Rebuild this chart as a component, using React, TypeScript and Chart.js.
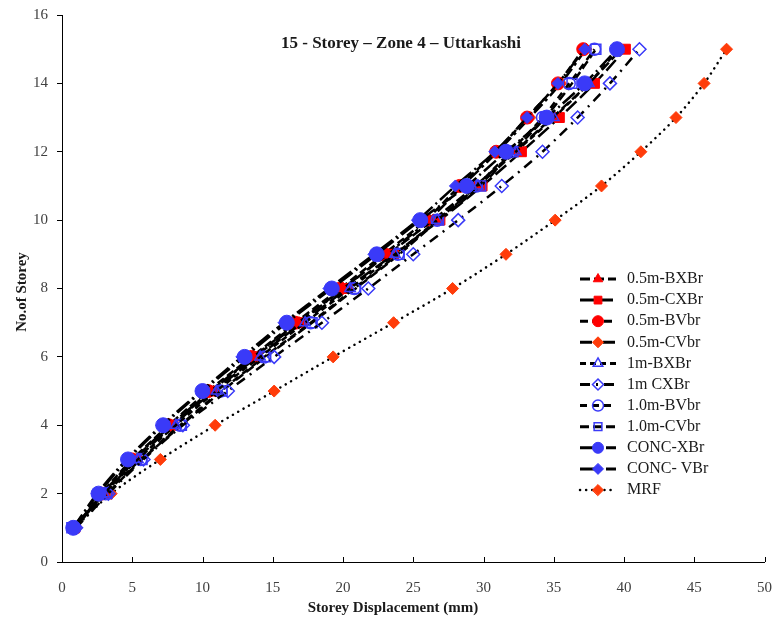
import React, { useEffect, useRef } from 'react';
import { Chart, registerables } from 'chart.js';
import { drawPoint } from 'chart.js/helpers';

Chart.register(...registerables);

// ---- data ----
const storeys = [1, 2, 3, 4, 5, 6, 7, 8, 9, 10, 11, 12, 13, 14, 15];
const s05BXBr = [0.9, 2.9, 5.1, 7.8, 10.6, 13.6, 16.8, 20.0, 23.2, 26.4, 29.4, 32.2, 34.9, 37.5, 39.8];
const s05CXBr = [0.9, 3.0, 5.3, 7.9, 10.8, 13.9, 17.1, 20.3, 23.6, 26.9, 29.9, 32.7, 35.4, 37.9, 40.1];
const s05BVbr = [0.9, 2.8, 5.0, 7.6, 10.4, 13.5, 16.6, 19.8, 22.9, 25.9, 28.3, 30.9, 33.1, 35.3, 37.1];
const s05CVbr = [0.9, 2.9, 5.1, 7.7, 10.6, 13.7, 16.9, 20.0, 23.1, 26.1, 28.5, 31.0, 33.3, 35.5, 37.3];
const s1BXBr = [0.9, 3.0, 5.4, 8.1, 11.0, 14.1, 17.3, 20.5, 23.7, 26.7, 29.6, 32.3, 35.0, 37.5, 39.6];
const s1CXBr = [1.0, 3.3, 5.8, 8.6, 11.8, 15.1, 18.5, 21.8, 25.0, 28.2, 31.3, 34.2, 36.7, 39.0, 41.1];
const s10BVbr = [0.9, 3.1, 5.6, 8.4, 11.3, 14.4, 17.7, 20.8, 23.9, 26.7, 29.5, 31.9, 34.2, 36.1, 37.9];
const s10CVbr = [0.7, 3.2, 5.7, 8.5, 11.4, 14.5, 17.8, 20.9, 24.0, 26.8, 29.8, 32.1, 34.4, 36.3, 38.0];
const concXBr = [0.8, 2.6, 4.7, 7.2, 10.0, 13.0, 16.0, 19.2, 22.4, 25.5, 28.8, 31.6, 34.5, 37.2, 39.5];
const concVBr = [0.8, 2.5, 4.6, 7.1, 9.9, 12.8, 15.8, 19.0, 22.2, 25.3, 28.0, 30.8, 33.1, 35.3, 37.2];
const mrf = [0.9, 3.5, 7.0, 10.9, 15.1, 19.3, 23.6, 27.8, 31.6, 35.1, 38.4, 41.2, 43.7, 45.7, 47.3];

const seriesLabels = ['0.5m-BXBr', '0.5m-CXBr', '0.5m-BVbr', '0.5m-CVbr', '1m-BXBr', '1m CXBr', '1.0m-BVbr', '1.0m-CVbr', 'CONC-XBr', 'CONC- VBr', 'MRF'];
const seriesValues = [s05BXBr, s05CXBr, s05BVbr, s05CVbr, s1BXBr, s1CXBr, s10BVbr, s10CVbr, concXBr, concVBr, mrf];

const chartTitle = '15 - Storey \u2013 Zone 4 \u2013 Uttarkashi';
const xTitle = 'Storey Displacement (mm)';
const yTitle = 'No.of Storey';

// ---- styles ----
const RED = '#FF0000';
const BLUE = '#3A3AF8';
const ORANGE = '#FF3C0A';
const NONE = 'rgba(0,0,0,0)';
const SERIF = '"Liberation Serif", "DejaVu Serif", serif';

const styles = [
  { ps: 'triangle', r: 6, bg: RED, bc: RED, bw: 1, dash: [10, 4], order: 6 },
  { ps: 'rect', r: 7, bg: RED, bc: RED, bw: 1, dash: [14, 5], order: 7 },
  { ps: 'circle', r: 6.5, bg: RED, bc: RED, bw: 1, dash: [8, 4], order: 8 },
  { ps: 'rectRot', r: 6, bg: ORANGE, bc: ORANGE, bw: 1, dash: [12, 4, 3, 4], order: 9 },
  { ps: 'triangle', r: 6, bg: NONE, bc: BLUE, bw: 1.5, dash: [6, 4], order: 2 },
  { ps: 'rectRot', r: 6.5, bg: NONE, bc: BLUE, bw: 1.5, dash: [10, 6, 2, 6], order: 3 },
  { ps: 'circle', r: 6, bg: NONE, bc: BLUE, bw: 1.5, dash: [7, 5], order: 4 },
  { ps: 'rect', r: 7, bg: NONE, bc: BLUE, bw: 1.5, dash: [9, 4], order: 5 },
  { ps: 'circle', r: 7.5, bg: BLUE, bc: BLUE, bw: 1, dash: [16, 4, 2, 4], order: 0 },
  { ps: 'rectRot', r: 6, bg: BLUE, bc: BLUE, bw: 1, dash: [16, 4, 2, 4], order: 1 },
  { ps: 'rectRot', r: 6, bg: ORANGE, bc: ORANGE, bw: 1, dash: [0.1, 6], order: 10 },
];

const overlayPlugin = {
  id: 'overlay',
  afterDatasetsDraw(chart: any) {
    const { ctx, scales, chartArea } = chart;
    const xs = scales.x;
    ctx.save();
    ctx.strokeStyle = '#000';
    ctx.lineWidth = 1;
    for (let v = 5; v <= 50; v += 5) {
      const px = Math.round(xs.getPixelForValue(v)) + 0.5;
      ctx.beginPath();
      ctx.moveTo(px, chartArea.bottom);
      ctx.lineTo(px, chartArea.bottom - 5);
      ctx.stroke();
    }
    ctx.restore();
  },
  afterDraw(chart: any) {
    const { ctx } = chart;
    ctx.save();
    ctx.fillStyle = '#1a1a1a';
    ctx.textAlign = 'center';
    ctx.textBaseline = 'middle';
    ctx.font = `bold 17px ${SERIF}`;
    ctx.fillText(chartTitle, 401, 44);
    ctx.font = `bold 15px ${SERIF}`;
    ctx.fillText(xTitle, 393, 608);
    ctx.save();
    ctx.translate(22, 292);
    ctx.rotate(-Math.PI / 2);
    ctx.fillText(yTitle, 0, 0);
    ctx.restore();

    // legend
    const ds = chart.data.datasets;
    ds.forEach((d: any, i: number) => {
      const y = 279 + i * 21.1;
      ctx.save();
      ctx.strokeStyle = '#000';
      ctx.lineWidth = d.label === 'MRF' ? 2.5 : 3;
      ctx.lineCap = d.label === 'MRF' ? 'round' : 'butt';
      ctx.setLineDash(d.borderDash);
      ctx.beginPath();
      ctx.moveTo(580, y);
      ctx.lineTo(616, y);
      ctx.stroke();
      ctx.setLineDash([]);
      ctx.fillStyle = d.pointBackgroundColor;
      ctx.strokeStyle = d.pointBorderColor;
      ctx.lineWidth = d.pointBorderWidth;
      drawPoint(ctx, { pointStyle: d.pointStyle, radius: Math.min(d.pointRadius, 5.5), rotation: 0, borderWidth: d.pointBorderWidth }, 598, y);
      ctx.restore();
      ctx.fillStyle = '#1a1a1a';
      ctx.textAlign = 'left';
      ctx.font = `16px ${SERIF}`;
      ctx.fillText(d.label, 627, y);
    });
    ctx.restore();
  },
};

export default function App() {
  const canvasRef = useRef<HTMLCanvasElement | null>(null);

  useEffect(() => {
    if (!canvasRef.current) return;
    const datasets = seriesLabels.map((label, i) => {
      const st = styles[i];
      return {
        label,
        data: seriesValues[i].map((x, k) => ({ x, y: storeys[k] })),
        showLine: true,
        borderColor: '#000',
        borderWidth: 2.5,
        borderDash: st.dash,
        borderCapStyle: label === 'MRF' ? 'round' : 'butt',
        tension: 0.3,
        pointStyle: st.ps,
        pointRadius: st.r,
        pointBackgroundColor: st.bg,
        pointBorderColor: st.bc,
        pointBorderWidth: st.bw,
        order: st.order,
      };
    });
    const tickFont = { family: SERIF, size: 15 };
    const chart = new Chart(canvasRef.current, {
      type: 'scatter',
      data: { datasets: datasets as any },
      options: {
        animation: false,
        responsive: false,
        layout: { padding: { left: 0, right: 6, top: 15, bottom: 0 } },
        plugins: { legend: { display: false }, tooltip: { enabled: false }, title: { display: false } },
        scales: {
          x: {
            type: 'linear',
            min: 0,
            max: 50,
            ticks: { stepSize: 5, font: tickFont, color: '#404040', padding: 9, maxRotation: 0 },
            grid: { display: false },
            border: { display: true, color: '#000', width: 1 },
            afterFit: (s: any) => { s.height = 61; s.paddingLeft = 0; s.paddingRight = 0; },
          },
          y: {
            type: 'linear',
            min: 0,
            max: 16,
            ticks: { stepSize: 2, font: tickFont, color: '#404040', padding: 9 },
            grid: { drawOnChartArea: false, drawTicks: true, tickLength: 5, color: '#000' },
            border: { display: true, color: '#000', width: 1 },
            afterFit: (s: any) => { s.width = 62; s.paddingTop = 0; s.paddingBottom = 0; },
          },
        },
      },
      plugins: [overlayPlugin],
    });
    return () => chart.destroy();
  }, []);

  return (
    <div style={{ position: 'absolute', left: 0, top: 0, width: 773, height: 623, background: '#fff' }}>
      <canvas ref={canvasRef} width={773} height={623} style={{ display: 'block' }} />
    </div>
  );
}
